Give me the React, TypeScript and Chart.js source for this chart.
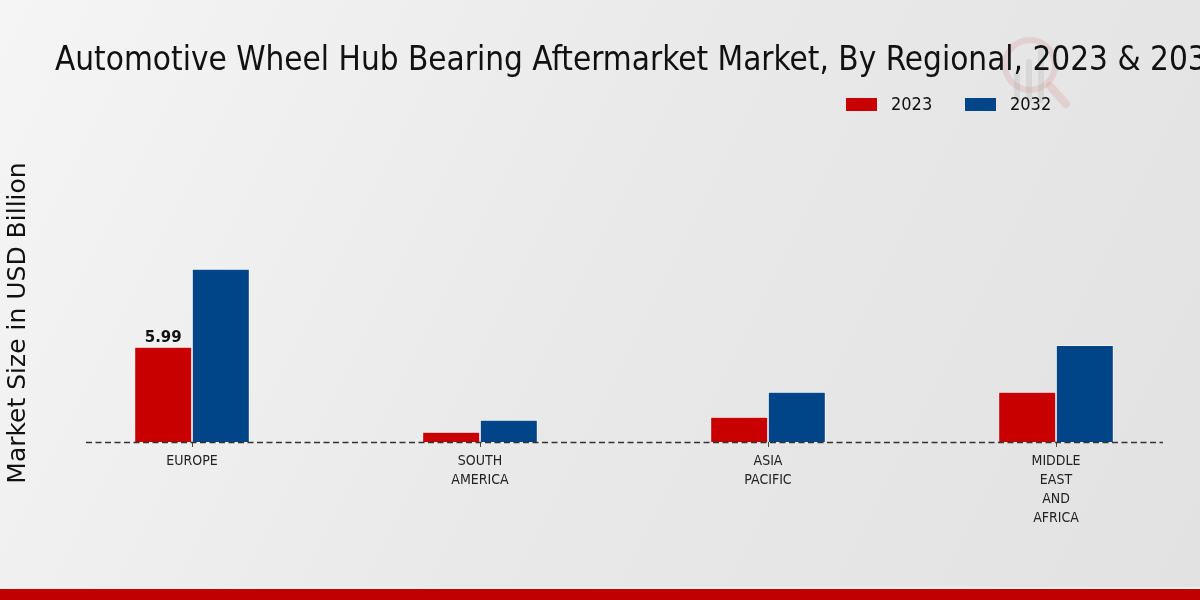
import React, { useEffect, useRef } from "react";
import { Chart, registerables } from "chart.js";

Chart.register(...registerables);

const categories = [["EUROPE"], ["SOUTH", "AMERICA"], ["ASIA", "PACIFIC"], ["MIDDLE", "EAST", "AND", "AFRICA"]];
const values2023 = [5.99, 0.63, 1.58, 3.15];
const values2032 = [10.9, 1.39, 3.15, 6.1];
const seriesNames = ["2023", "2032"];
const titleText = "Automotive Wheel Hub Bearing Aftermarket Market, By Regional, 2023 & 2032";
const yTitle = "Market Size in USD Billion";
const labelledValue = 5.99;

const RED = "#c80000";
const BLUE = "#004587";

const decorPlugin = {
  id: "decor",
  beforeDraw(chart: any) {
    const { ctx, width, height } = chart;
    ctx.save();
    const g = ctx.createLinearGradient(0, 0, width, height);
    g.addColorStop(0, "#f5f5f5");
    g.addColorStop(0.5, "#e9e9e9");
    g.addColorStop(1, "#e2e2e2");
    ctx.fillStyle = g;
    ctx.fillRect(0, 0, width, height);
    ctx.fillStyle = "#f2f2f2";
    ctx.fillRect(0, 587, width, 2);
    ctx.fillStyle = "#c00000";
    ctx.fillRect(0, 589, width, height - 589);
    // faint watermark logo
    ctx.strokeStyle = "rgba(200,60,60,0.13)";
    ctx.lineWidth = 6;
    ctx.beginPath();
    ctx.arc(1030, 65, 25, 0, Math.PI * 2);
    ctx.stroke();
    ctx.lineWidth = 8;
    ctx.lineCap = "round";
    ctx.beginPath();
    ctx.moveTo(1050, 86);
    ctx.lineTo(1066, 104);
    ctx.stroke();
    ctx.strokeStyle = "rgba(150,150,150,0.18)";
    ctx.lineWidth = 6;
    [[1017, 75], [1029, 62], [1041, 50]].forEach(([x, top]) => {
      ctx.beginPath();
      ctx.moveTo(x, 100);
      ctx.lineTo(x, top);
      ctx.stroke();
    });
    ctx.restore();
  },
  afterDatasetsDraw(chart: any) {
    const { ctx } = chart;
    const y = Math.round(chart.scales.y.getPixelForValue(0)) + 0.5;
    ctx.save();
    ctx.strokeStyle = "#333";
    ctx.lineWidth = 1.5;
    ctx.setLineDash([6, 3.5]);
    ctx.beginPath();
    ctx.moveTo(86, y);
    ctx.lineTo(1163, y);
    ctx.stroke();
    ctx.setLineDash([]);
    // data label
    const meta = chart.getDatasetMeta(0);
    const idx = values2023.indexOf(labelledValue);
    const bar = meta.data[idx];
    ctx.fillStyle = "#111";
    ctx.font = "bold 15px 'DejaVu Sans'";
    ctx.textAlign = "center";
    ctx.textBaseline = "bottom";
    ctx.fillText(labelledValue.toFixed(2), bar.x, bar.y - 1);
    // title
    ctx.fillStyle = "#111";
    ctx.font = "33px 'DejaVu Sans Condensed'";
    ctx.textAlign = "left";
    ctx.textBaseline = "alphabetic";
    ctx.fillText(titleText, 55, 70);
    // legend
    const items = [
      { label: seriesNames[0], color: RED, x: 846 },
      { label: seriesNames[1], color: BLUE, x: 965 },
    ];
    ctx.font = "18px 'DejaVu Sans Condensed'";
    ctx.textBaseline = "middle";
    items.forEach((it) => {
      ctx.fillStyle = it.color;
      ctx.fillRect(it.x, 98, 31, 13);
      ctx.fillStyle = "#111";
      ctx.fillText(it.label, it.x + 45, 105);
    });
    ctx.restore();
  },
};

export default function App() {
  const ref = useRef<HTMLCanvasElement>(null);
  useEffect(() => {
    document.body.style.margin = "0";
    const chart = new Chart(ref.current!, {
      type: "bar",
      data: {
        labels: categories as any,
        datasets: [
          { label: seriesNames[0], data: values2023, backgroundColor: RED, borderColor: "#ffffff", borderWidth: 0.8, categoryPercentage: 0.4, barPercentage: 1 },
          { label: seriesNames[1], data: values2032, backgroundColor: BLUE, borderColor: "#ffffff", borderWidth: 0.8, categoryPercentage: 0.4, barPercentage: 1 },
        ],
      },
      options: {
        animation: false,
        responsive: false,
        layout: { padding: { top: 204, left: 0, right: 0, bottom: 0 } },
        plugins: { legend: { display: false }, title: { display: false }, tooltip: { enabled: false } },
        scales: {
          x: {
            afterFit(scale: any) { scale.height = 158; },
            grid: { display: true, drawOnChartArea: false, offset: false, tickLength: 5, color: "#444", tickWidth: 1 },
            border: { display: false },
            ticks: { color: "#222", font: { family: "'DejaVu Sans Condensed'", size: 14, lineHeight: 1.35 }, padding: 5, maxRotation: 0, autoSkip: false },
          },
          y: {
            min: 0,
            max: 15,
            afterFit(scale: any) { scale.width = 48; },
            grid: { display: false },
            border: { display: false },
            ticks: { display: false },
            title: { display: true, text: yTitle, color: "#111", font: { family: "'DejaVu Sans'", size: 25 }, padding: { top: 3, bottom: 0 } },
          },
        },
      },
      plugins: [decorPlugin],
    });
    return () => chart.destroy();
  }, []);
  return (
    <div style={{ width: 1200, height: 600 }}>
      <canvas ref={ref} width={1200} height={600} style={{ display: "block" }} />
    </div>
  );
}
